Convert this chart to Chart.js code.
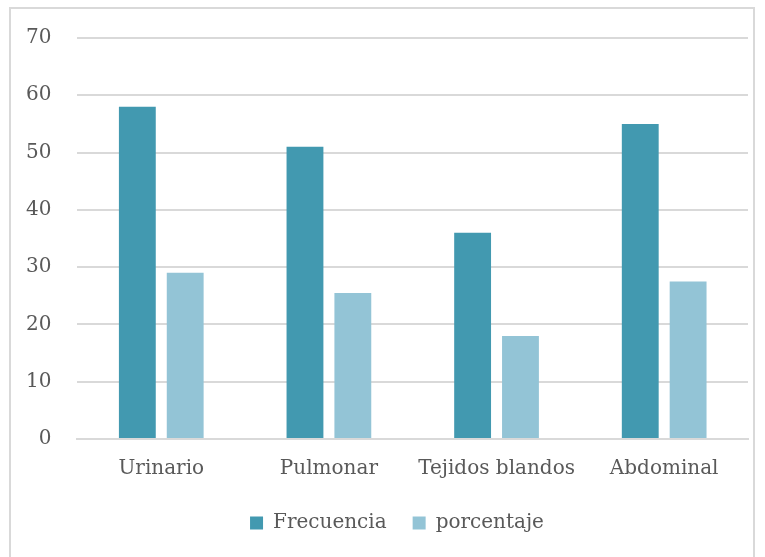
<!DOCTYPE html>
<html>
<head>
<meta charset="utf-8">
<script src="https://cdn.jsdelivr.net/npm/chart.js@4/dist/chart.umd.min.js"></script>
<style>
  body { margin: 0; background: #fff; }
  #marco { position: absolute; left: 9px; top: 7px; width: 746px; height: 560px; border: 2px solid #d9d9d9; box-sizing: border-box; }
  #lienzo { position: absolute; left: 0; top: 0; width: 765px; height: 557px; }
</style>
</head>
<body>
<div id="marco"></div>
<div id="lienzo"><canvas id="myChart" width="765" height="557"></canvas></div>
<script>
// datos del grafico
const categorias = ["Urinario", "Pulmonar", "Tejidos blandos", "Abdominal"];
const frecuencia = [58, 51, 36, 55];
const porcentaje = [29, 25.5, 18, 27.5];
const ticksY = [0, 10, 20, 30, 40, 50, 60, 70];

const fuente = "'DejaVu Serif', serif";
const gris = "#595959";

// corre la leyenda un poco a la derecha, como en el original
const moverLeyenda = {
  id: "moverLeyenda",
  afterLayout(chart) {
    if (chart.legend) { chart.legend.left += 46; }
  }
};

const config = {
  type: "bar",
  data: {
    labels: categorias,
    datasets: [
      { label: "Frecuencia", data: frecuencia, backgroundColor: "#4299b0",
        categoryPercentage: 0.571, barPercentage: 0.77 },
      { label: "porcentaje", data: porcentaje, backgroundColor: "#93c4d6",
        categoryPercentage: 0.571, barPercentage: 0.77 }
    ]
  },
  options: {
    responsive: false,
    animation: false,
    layout: { padding: { left: 0, right: 17, top: 25, bottom: 14 } },
    plugins: {
      tooltip: { enabled: false },
      legend: {
        position: "bottom",
        labels: {
          boxWidth: 13, boxHeight: 13, padding: 26,
          color: gris, font: { family: fuente, size: 20 }
        }
      }
    },
    scales: {
      x: {
        grid: { display: false, drawTicks: false },
        border: { color: "#d9d9d9", width: 2 },
        ticks: { color: gris, font: { family: fuente, size: 20 }, padding: 18,
                 maxRotation: 0, minRotation: 0, autoSkip: false },
        // acercar la leyenda a las etiquetas del eje
        afterFit: (eje) => { eje.height -= 12; }
      },
      y: {
        min: 0, max: 70,
        afterBuildTicks: (eje) => { eje.ticks = ticksY.map(v => ({ value: v })); },
        grid: { color: "#d9d9d9", lineWidth: 2, drawTicks: false },
        border: { display: false },
        ticks: { color: gris, font: { family: fuente, size: 20 }, padding: 26 }
      }
    }
  },
  plugins: [moverLeyenda]
};

new Chart(document.getElementById("myChart"), config);
</script>
</body>
</html>
